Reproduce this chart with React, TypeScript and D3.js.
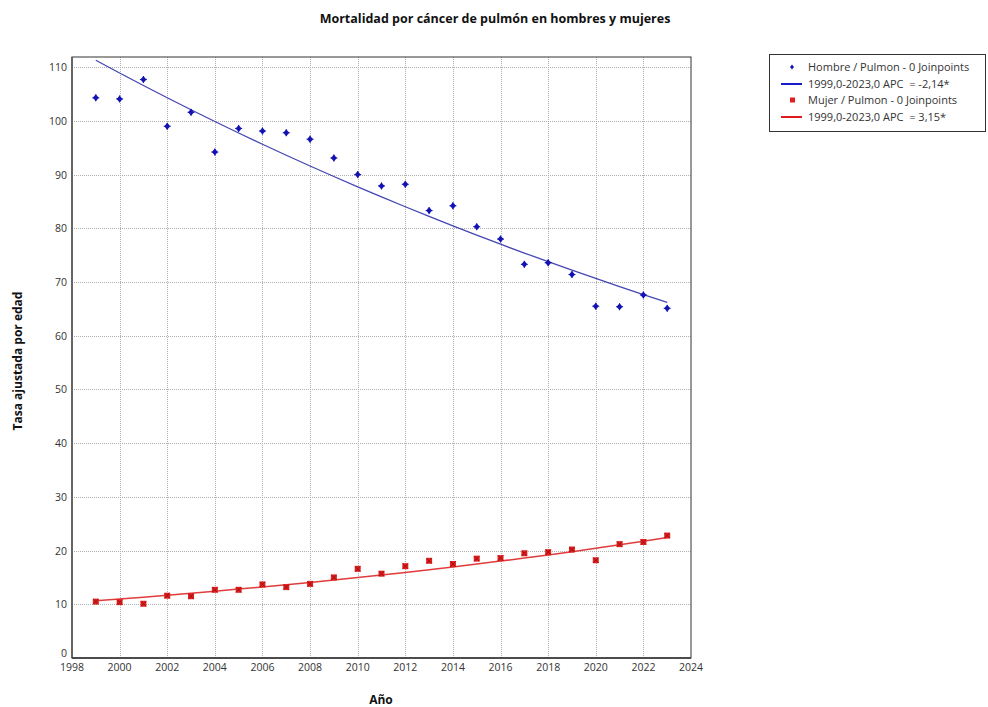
import React from "react";
import * as d3 from "d3";

// Observed age-adjusted lung cancer mortality rates by year
const years = [1999, 2000, 2001, 2002, 2003, 2004, 2005, 2006, 2007, 2008, 2009, 2010, 2011, 2012, 2013, 2014, 2015, 2016, 2017, 2018, 2019, 2020, 2021, 2022, 2023];
const hombres = [104.3, 104.1, 107.7, 99.0, 101.6, 94.2, 98.6, 98.1, 97.8, 96.6, 93.1, 90.0, 87.9, 88.2, 83.3, 84.2, 80.3, 78.0, 73.3, 73.6, 71.4, 65.5, 65.4, 67.6, 65.1];
const mujeres = [10.5, 10.4, 10.1, 11.6, 11.5, 12.7, 12.7, 13.7, 13.2, 13.8, 15.0, 16.6, 15.7, 17.1, 18.1, 17.5, 18.5, 18.6, 19.5, 19.7, 20.2, 18.2, 21.2, 21.6, 22.8];

// Joinpoint model (0 joinpoints): fitted value at 1999 and annual percent change
const fitStart = [111.3, 10.65];
const fitAPC = [-2.14, 3.15];

const xTicks = [1998, 2000, 2002, 2004, 2006, 2008, 2010, 2012, 2014, 2016, 2018, 2020, 2022, 2024];
const yTicks = [0, 10, 20, 30, 40, 50, 60, 70, 80, 90, 100, 110];

const legendLabels = [
  "Hombre / Pulmon - 0 Joinpoints",
  "1999,0-2023,0 APC  = -2,14*",
  "Mujer / Pulmon - 0 Joinpoints",
  "1999,0-2023,0 APC  = 3,15*",
];

const W = 988;
const H = 707;
const left = 72;
const right = 691;
const top = 57;
const bottom = 658;
const font = "'Open Sans', 'Noto Sans', sans-serif";

export default function App() {
  const x = d3.scaleLinear().domain([1998, 2024]).range([left, right]);
  const y = d3.scaleLinear().domain([0, 111.9]).range([bottom, top]);

  const fitted = (i: number) =>
    years.map((yr) => [yr, fitStart[i] * Math.pow(1 + fitAPC[i] / 100, yr - years[0])] as [number, number]);
  const line = d3
    .line<[number, number]>()
    .x((d) => x(d[0]))
    .y((d) => y(d[1]));

  const blueDot = "#1414b4";
  const redDot = "#e02020";

  const diamond = (cx: number, cy: number, key: string | number) => (
    <g key={key}>
      <path d={`M${cx},${cy - 3.5}L${cx + 3},${cy}L${cx},${cy + 3.5}L${cx - 3},${cy}Z`} fill={blueDot} />
      <path d={`M${cx - 3.5},${cy}H${cx + 3.5}M${cx},${cy - 3.5}V${cy + 3.5}`} stroke={blueDot} strokeWidth={1} />
    </g>
  );
  const square = (cx: number, cy: number, key: string | number) => (
    <g key={key}>
      <rect x={cx - 3} y={cy - 3} width={6} height={6} fill={redDot} />
      <path d={`M${cx - 2.5},${cy - 2.5}L${cx + 2.5},${cy + 2.5}M${cx + 2.5},${cy - 2.5}L${cx - 2.5},${cy + 2.5}`} stroke="#a01010" strokeWidth={1} />
    </g>
  );

  const legY = [67, 84, 100, 117];

  return (
    <svg width={W} height={H} style={{ position: "absolute", left: 0, top: 0, background: "#fff" }} fontFamily={font}>
      <rect x={0} y={0} width={W} height={H} fill="#fff" />
      <text x={495} y={23} textAnchor="middle" fontSize={12.5} fontWeight="bold" fill="#111">
        Mortalidad por cáncer de pulmón en hombres y mujeres
      </text>

      {/* grid */}
      <g stroke="#b0b0b0" strokeWidth={1} strokeDasharray="1,1">
        {yTicks.filter((t) => t > 0).map((t) => (
          <line key={"gy" + t} x1={left} x2={right} y1={Math.round(y(t)) + 0.5} y2={Math.round(y(t)) + 0.5} />
        ))}
        {xTicks.filter((t) => t > 1998 && t < 2024).map((t) => (
          <line key={"gx" + t} x1={Math.round(x(t)) + 0.5} x2={Math.round(x(t)) + 0.5} y1={top} y2={bottom} />
        ))}
      </g>

      {/* plot frame */}
      <rect x={left} y={top} width={right - left} height={bottom - top} fill="none" stroke="#333" strokeWidth={1} />
      <line x1={left} x2={left} y1={top} y2={bottom} stroke="#666" strokeWidth={2} />
      <line x1={left} x2={right} y1={bottom} y2={bottom} stroke="#333" strokeWidth={1.5} />

      {/* tick labels */}
      <g fontSize={10.5} fill="#333">
        {yTicks.map((t) => (
          <text key={"yl" + t} x={67} y={t === 0 ? y(t) - 1 : y(t) + 4} textAnchor="end">
            {t}
          </text>
        ))}
        {xTicks.map((t) => (
          <text key={"xl" + t} x={x(t)} y={671} textAnchor="middle">
            {t}
          </text>
        ))}
      </g>

      {/* axis titles */}
      <text x={381} y={704} textAnchor="middle" fontSize={12} fontWeight="bold" fill="#111">
        Año
      </text>
      <text transform={`translate(22,361) rotate(-90)`} textAnchor="middle" fontSize={12} fontWeight="bold" fill="#111">
        Tasa ajustada por edad
      </text>

      {/* fitted trends */}
      <path d={line(fitted(0)) ?? ""} fill="none" stroke="#4646b4" strokeWidth={1.3} />
      <path d={line(fitted(1)) ?? ""} fill="none" stroke="#e03c3c" strokeWidth={1.5} />

      {/* observed points */}
      {years.map((yr, i) => diamond(x(yr), y(hombres[i]), "h" + yr))}
      {years.map((yr, i) => square(x(yr), y(mujeres[i]), "m" + yr))}

      {/* legend */}
      <rect x={769.5} y={54.5} width={216} height={77} fill="#fff" stroke="#333" strokeWidth={1} />
      <g transform={`translate(792,${legY[0]})`}>
        <path d="M0,-2.5L2,0L0,2.5L-2,0Z" fill={blueDot} />
      </g>
      <line x1={781} x2={802} y1={legY[1]} y2={legY[1]} stroke="#1a1acd" strokeWidth={2} />
      <rect x={790} y={legY[2] - 2.5} width={5} height={5} fill={redDot} />
      <line x1={781} x2={802} y1={legY[3]} y2={legY[3]} stroke="#e01a1a" strokeWidth={2} />
      <g fontSize={11} fill="#333" style={{ whiteSpace: "pre" }}>
        {legendLabels.map((l, i) => (
          <text key={"lg" + i} x={808} y={legY[i] + 4} xmlSpace="preserve">
            {l}
          </text>
        ))}
      </g>
    </svg>
  );
}
